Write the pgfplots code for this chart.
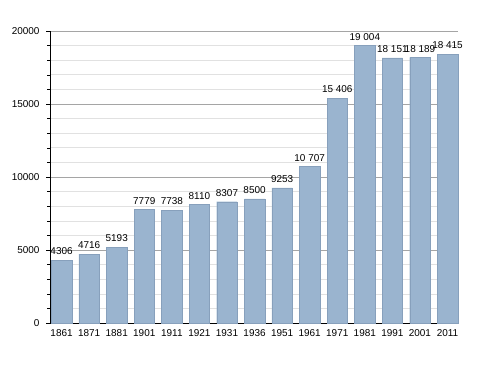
\documentclass[border=0pt]{standalone}
\usepackage{pgfplots}
\pgfplotsset{compat=1.18}
\usepackage{pgfplotstable}
\usepackage{fontspec}
\setmainfont{Liberation Sans}
\definecolor{barfill}{RGB}{154,180,207}
\definecolor{baredge}{RGB}{135,160,188}
\definecolor{majgrid}{RGB}{165,165,165}
\definecolor{mingrid}{RGB}{225,225,225}
\pgfplotstableread[col sep=comma]{
x,y,lab
0,4306,4306
1,4716,4716
2,5193,5193
3,7779,7779
4,7738,7738
5,8110,8110
6,8307,8307
7,8500,8500
8,9253,9253
9,10707,10 707
10,15406,15 406
11,19004,19 004
12,18151,18 151
13,18189,18 189
14,18415,18 415
}\datatable
\begin{document}
\begin{tikzpicture}
\useasboundingbox (0,0) rectangle (488bp,373bp);
\begin{axis}[
  at={(50bp,50bp)}, anchor=south west,
  scale only axis, width=408bp, height=292bp,
  xmin=-0.42, xmax=14.38, ymin=0, ymax=20000,
  axis lines=left, axis line style={-, black, line width=0.8pt},
  xtick={0,...,14},
  xticklabels={1861,1871,1881,1901,1911,1921,1931,1936,1951,1961,1971,1981,1991,2001,2011},
  x tick style={draw=none},
  ytick={0,5000,10000,15000,20000},
  minor ytick={1000,2000,3000,4000,6000,7000,8000,9000,11000,12000,13000,14000,16000,17000,18000,19000},
  tick align=outside,
  major tick length=4bp, minor tick length=3bp,
  y tick style={black, line width=0.5pt},
  ymajorgrids, yminorgrids,
  major grid style={majgrid, line width=0.6pt},
  minor grid style={mingrid, line width=0.6pt},
  /pgf/number format/assume math mode=true,
  /pgf/number format/1000 sep={},
  scaled y ticks=false,
  tick label style={font=\fontsize{10}{12}\selectfont},
  xticklabel style={yshift=1bp},
  yticklabel style={xshift=-3bp},
  enlargelimits=false,
  clip=false,
]
\addplot[ybar, bar width=20.5bp, fill=barfill, draw=baredge, line width=0.4pt,
  nodes near coords, point meta=explicit symbolic,
  every node near coord/.style={font=\fontsize{10}{12}\selectfont, anchor=south, inner sep=1pt, yshift=4bp}]
  table[x=x, y=y, meta=lab] {\datatable};
\end{axis}
\end{tikzpicture}
\end{document}
